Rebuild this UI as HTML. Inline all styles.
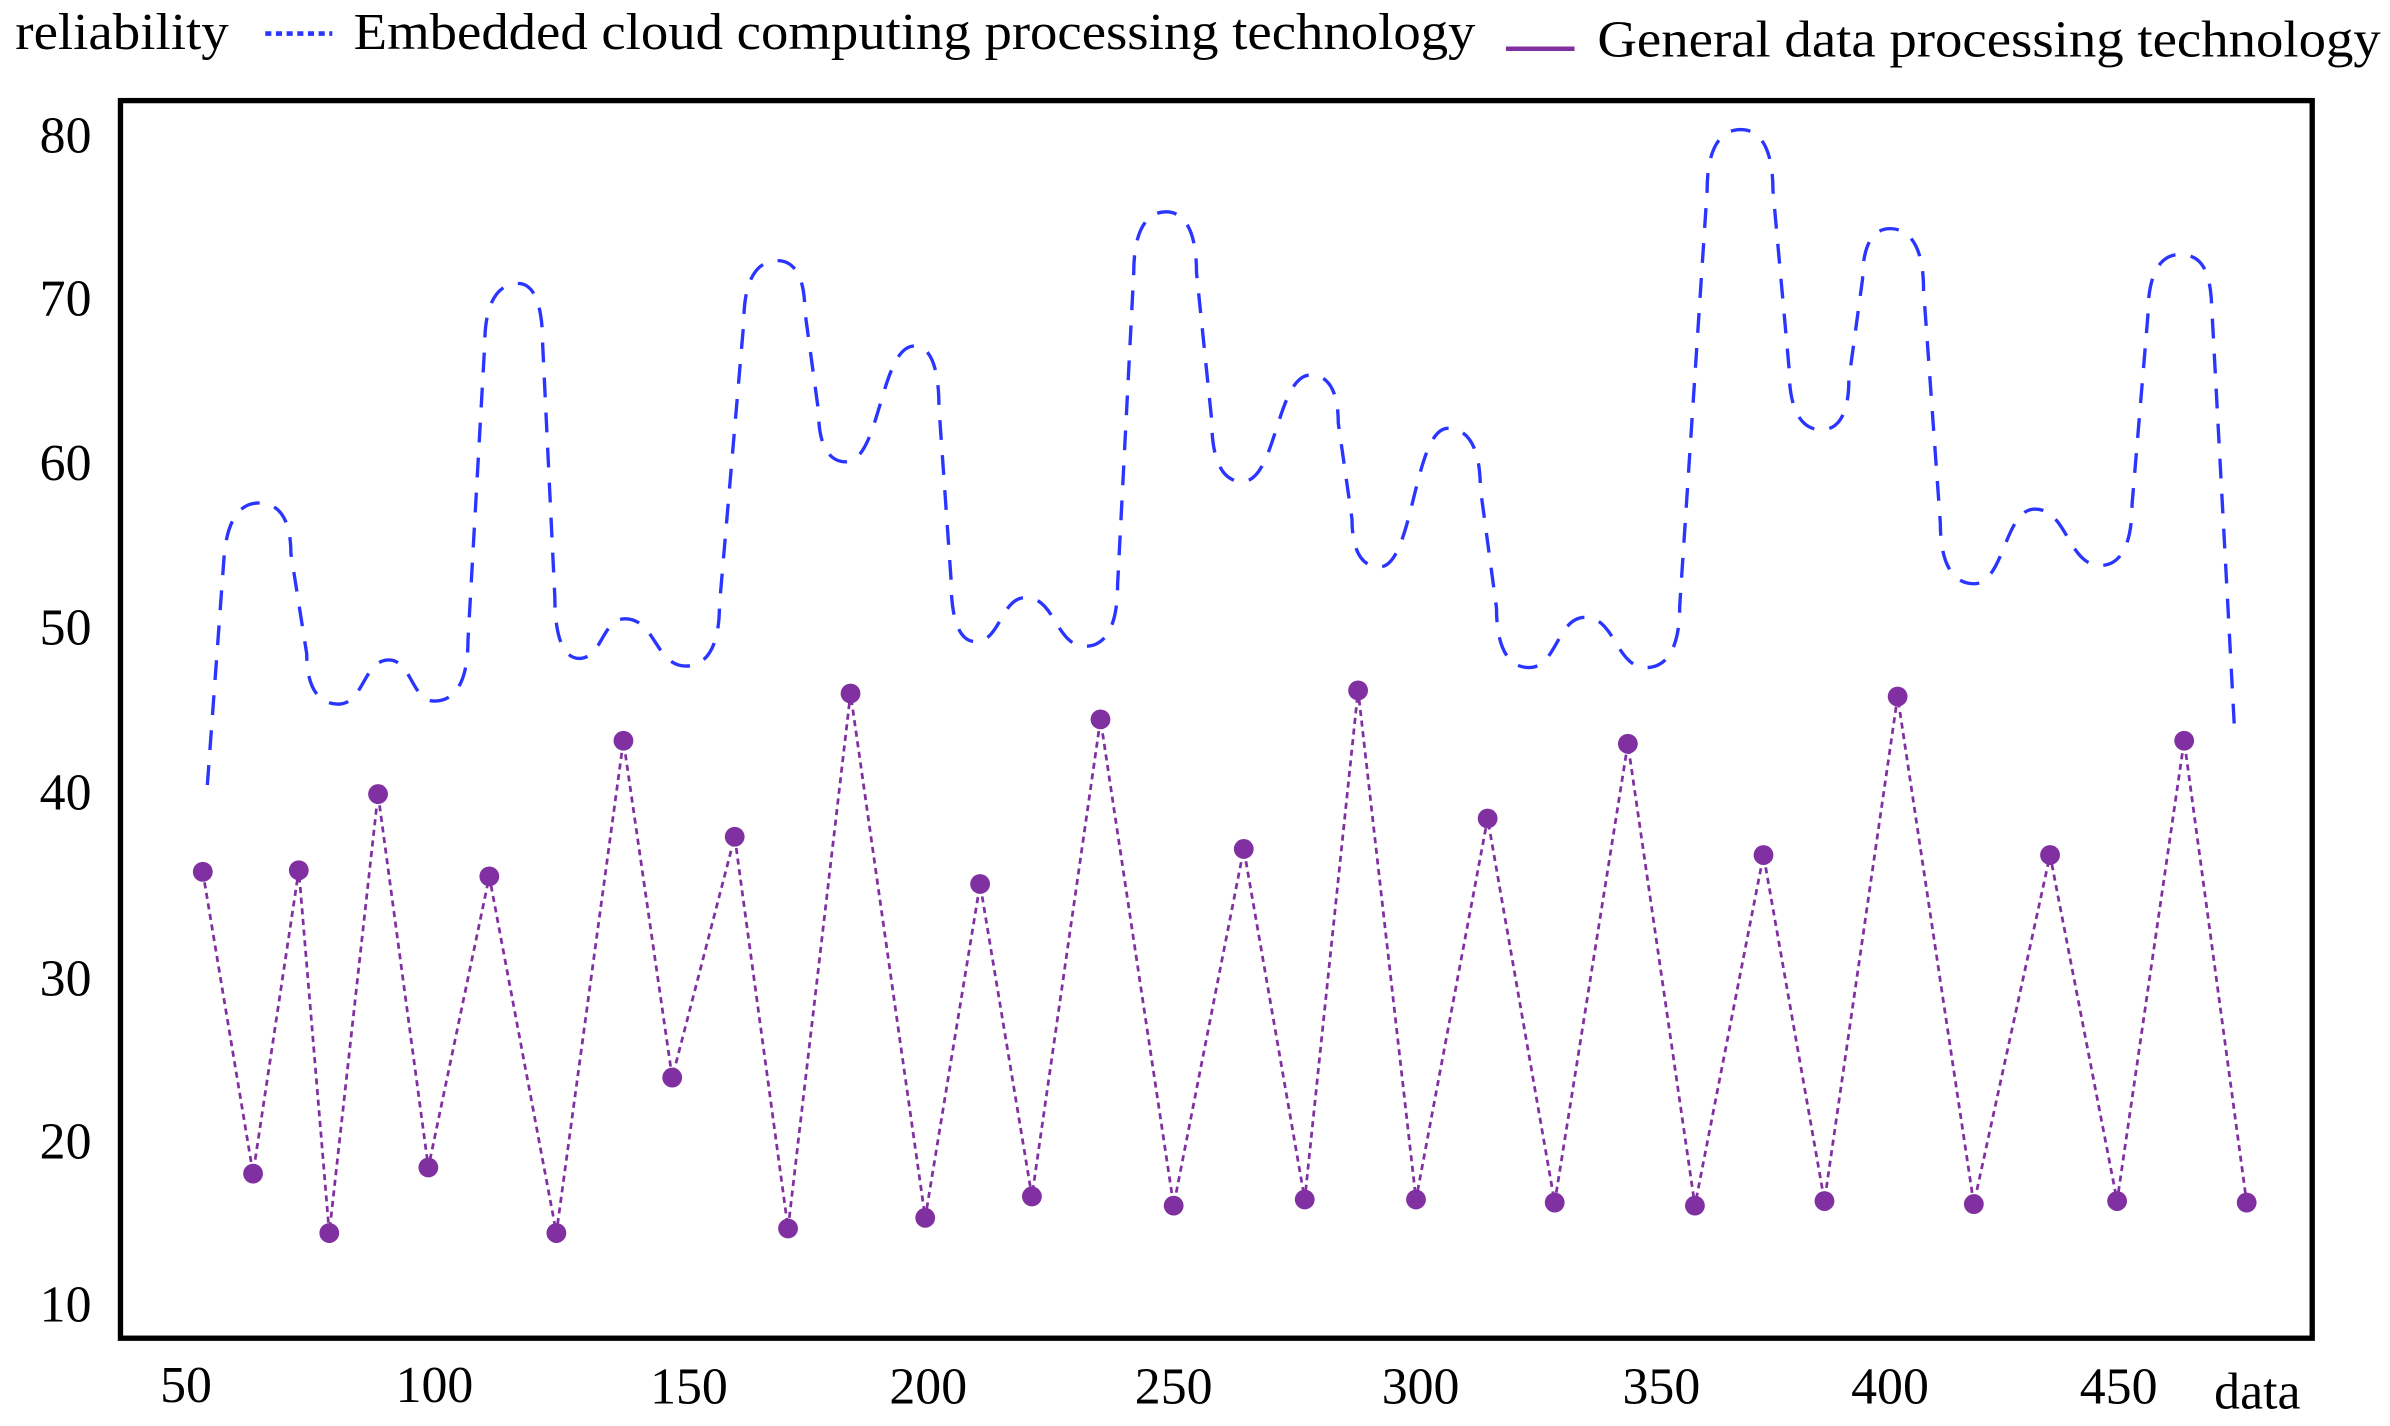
<!DOCTYPE html>
<html><head><meta charset="utf-8"><style>
html,body{margin:0;padding:0;background:#fff;}
svg{display:block;}
text{font-family:"Liberation Serif",serif;fill:#000;}
</style></head><body>
<svg width="2390" height="1426" viewBox="0 0 1568 935.6" xmlns="http://www.w3.org/2000/svg">
<rect x="0" y="0" width="1568" height="935.6" fill="#fff"/>
<text x="10" y="32" font-size="34" textLength="140" lengthAdjust="spacingAndGlyphs">reliability</text>
<line x1="174" y1="22" x2="218" y2="22" stroke="#2a35ff" stroke-width="3" stroke-dasharray="4,3"/>
<text x="232" y="32" font-size="34" textLength="736" lengthAdjust="spacingAndGlyphs">Embedded cloud computing processing technology</text>
<line x1="988" y1="32" x2="1033" y2="32" stroke="#8030a0" stroke-width="3"/>
<text x="1048" y="37" font-size="34" textLength="514" lengthAdjust="spacingAndGlyphs">General data processing technology</text>
<rect x="79" y="66" width="1438" height="812" fill="none" stroke="#000" stroke-width="3.5"/>
<g font-size="34" text-anchor="end">
<text x="60" y="100">80</text>
<text x="60" y="207">70</text>
<text x="60" y="315">60</text>
<text x="60" y="423">50</text>
<text x="60" y="531">40</text>
<text x="60" y="653">30</text>
<text x="60" y="760">20</text>
<text x="60" y="867">10</text>
</g>
<g font-size="34" text-anchor="middle">
<text x="122" y="920">50</text>
<text x="285" y="920">100</text>
<text x="452" y="921">150</text>
<text x="609" y="921">200</text>
<text x="770" y="921">250</text>
<text x="932" y="921">300</text>
<text x="1090" y="921">350</text>
<text x="1240" y="921">400</text>
<text x="1390" y="921">450</text>
<text x="1481" y="924">data</text>
</g>
<path id="blue" fill="none" stroke="#2a35ff" stroke-width="2.2" stroke-dasharray="13,10" d="M136,515 C142,420 150,330 170,330 C192,330 200,462 222,462 C236,462 241,433 255,433 C268,433 272,460 285,460 C308,460 317,186 340,186 C357,186 363,432 380,432 C393,432 397,406 410,406 C427,406 433,437 450,437 C475,437 485,171 510,171 C529,171 536,303 555,303 C574,303 581,227 600,227 C617,227 623,421 640,421 C654,421 659,392 673,392 C689,392 696,424 712,424 C734,424 743,139 765,139 C786,139 794,316 815,316 C834,316 841,246 860,246 C879,246 886,372 905,372 C924,372 931,281 950,281 C972,281 981,438 1003,438 C1019,438 1024,405 1040,405 C1057,405 1063,438 1080,438 C1106,438 1116,85 1142,85 C1164,85 1173,282 1195,282 C1214,282 1221,150 1240,150 C1263,150 1272,383 1295,383 C1312,383 1318,334 1335,334 C1353,334 1360,371 1378,371 C1400,371 1408,167 1430,167 C1450,167 1460,300 1466,478"/>
<polyline fill="none" stroke="#8030a0" stroke-width="1.8" stroke-dasharray="4,3" points="133,572 166,770 196,571 216,809 248,521 281,766 321,575 365,809 409,486 441,707 482,549 517,806 558,455 607,799 643,580 677,785 722,472 770,791 816,557 856,787 891,453 929,787 976,537 1020,789 1068,488 1112,791 1157,561 1197,788 1245,457 1295,790 1345,561 1389,788 1433,486 1474,789"/>
<g fill="#8030a0">
<circle cx="133" cy="572" r="6.5"/><circle cx="166" cy="770" r="6.5"/><circle cx="196" cy="571" r="6.5"/><circle cx="216" cy="809" r="6.5"/><circle cx="248" cy="521" r="6.5"/><circle cx="281" cy="766" r="6.5"/><circle cx="321" cy="575" r="6.5"/><circle cx="365" cy="809" r="6.5"/><circle cx="409" cy="486" r="6.5"/><circle cx="441" cy="707" r="6.5"/><circle cx="482" cy="549" r="6.5"/><circle cx="517" cy="806" r="6.5"/><circle cx="558" cy="455" r="6.5"/><circle cx="607" cy="799" r="6.5"/><circle cx="643" cy="580" r="6.5"/><circle cx="677" cy="785" r="6.5"/><circle cx="722" cy="472" r="6.5"/><circle cx="770" cy="791" r="6.5"/><circle cx="816" cy="557" r="6.5"/><circle cx="856" cy="787" r="6.5"/><circle cx="891" cy="453" r="6.5"/><circle cx="929" cy="787" r="6.5"/><circle cx="976" cy="537" r="6.5"/><circle cx="1020" cy="789" r="6.5"/><circle cx="1068" cy="488" r="6.5"/><circle cx="1112" cy="791" r="6.5"/><circle cx="1157" cy="561" r="6.5"/><circle cx="1197" cy="788" r="6.5"/><circle cx="1245" cy="457" r="6.5"/><circle cx="1295" cy="790" r="6.5"/><circle cx="1345" cy="561" r="6.5"/><circle cx="1389" cy="788" r="6.5"/><circle cx="1433" cy="486" r="6.5"/><circle cx="1474" cy="789" r="6.5"/>
</g>
</svg>
<script>
(function(){
var E=[[170,330],[222,462],[255,433],[285,460],[340,186],[380,432],[410,406],[450,437],[510,171],[555,303],[600,227],[640,421],[673,392],[712,424],[765,139],[815,316],[860,246],[905,372],[950,281],[1003,438],[1040,405],[1080,438],[1142,85],[1195,282],[1240,150],[1295,383],[1335,334],[1378,371],[1430,167]];
var d="M136,515 L147,365 Q150,330 170,330";
for(var i=0;i<E.length-1;i++){
var A=E[i],B=E[i+1],dx=B[0]-A[0],dy=B[1]-A[1],dir=dy>0?1:-1;
if(Math.abs(dy)<110){
var c=dx*0.5;
d+=" C"+(A[0]+c)+","+A[1]+" "+(B[0]-c)+","+B[1]+" "+B[0]+","+B[1];
}else{
var h=Math.min(22,dx*0.4),v=Math.min(40,Math.abs(dy)*0.25);
d+=" C"+(A[0]+h*0.6)+","+A[1]+" "+(A[0]+h)+","+(A[1]+dir*v*0.3)+" "+(A[0]+h)+","+(A[1]+dir*v);
d+=" L"+(B[0]-h)+","+(B[1]-dir*v);
d+=" C"+(B[0]-h)+","+(B[1]-dir*v*0.3)+" "+(B[0]-h*0.6)+","+B[1]+" "+B[0]+","+B[1];
}
}
d+=" C1443,167 1450,175 1451,200 L1466,478";
document.getElementById('blue').setAttribute('d',d);
})();
</script>
</body></html>
